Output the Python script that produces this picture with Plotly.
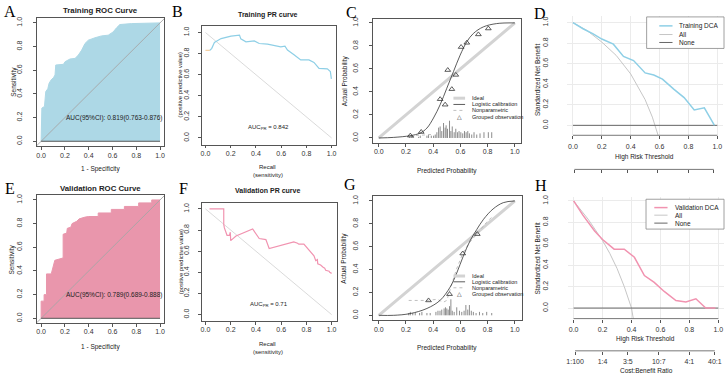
import plotly.graph_objects as go

W, H = 726, 375
FONT = "Liberation Sans, Arial, sans-serif"
SERIF = "Liberation Serif, Times New Roman, serif"
AX = "#555555"

TICKS = [0, 0.2, 0.4, 0.6, 0.8, 1.0]
TICK_TEXT = ["0.0", "0.2", "0.4", "0.6", "0.8", "1.0"]

# ---------------- A: Training ROC ----------------
roc_train_fpr = [0, 0.006, 0.028, 0.039, 0.056, 0.067, 0.084, 0.104, 0.117, 0.123, 0.188, 0.201,
                 0.243, 0.285, 0.313, 0.341, 0.369, 0.397, 0.452, 0.508, 0.564, 0.606, 0.634,
                 0.662, 0.76, 0.9, 1.0]
roc_train_tpr = [0, 0.28, 0.294, 0.42, 0.443, 0.49, 0.518, 0.538, 0.56, 0.644, 0.65, 0.672,
                 0.695, 0.70, 0.728, 0.77, 0.826, 0.854, 0.874, 0.89, 0.896, 0.924, 0.958,
                 0.986, 0.994, 1.0, 1.0]
auc_train_text = "AUC(95%CI): 0.819(0.763-0.876)"

# ---------------- E: Validation ROC ----------------
roc_valid_fpr = [0, 0, 0.025, 0.025, 0.045, 0.045, 0.085, 0.10, 0.115, 0.185, 0.185, 0.215, 0.22,
                 0.25, 0.26, 0.30, 0.32, 0.37, 0.40, 0.48, 0.48, 0.59, 0.59, 0.70, 0.70, 0.82,
                 0.82, 0.93, 0.93, 1.0]
roc_valid_tpr = [0, 0.145, 0.145, 0.20, 0.20, 0.375, 0.375, 0.43, 0.49, 0.51, 0.71, 0.72, 0.76,
                 0.77, 0.80, 0.82, 0.84, 0.855, 0.86, 0.86, 0.89, 0.89, 0.92, 0.92, 0.945, 0.945,
                 0.975, 0.975, 1.0, 1.0]
auc_valid_text = "AUC(95%CI): 0.789(0.689-0.888)"

# ---------------- B: Training PR ----------------
pr_train_start_recall = [0.0, 0.035]
pr_train_start_precision = [0.83, 0.83]
pr_train_recall = [0.035, 0.05, 0.071, 0.124, 0.203, 0.27, 0.28, 0.321, 0.387, 0.426, 0.492, 0.545,
                   0.597, 0.63, 0.65, 0.702, 0.755, 0.82, 0.86, 0.9, 0.966, 0.99, 0.998]
pr_train_precision = [0.83, 0.85, 0.906, 0.943, 0.966, 0.975, 0.94, 0.912, 0.92, 0.896, 0.89, 0.88,
                      0.865, 0.87, 0.834, 0.79, 0.74, 0.74, 0.717, 0.66, 0.655, 0.63, 0.56]
auc_pr_train = "AUC<sub>PR</sub> = 0.842"

# ---------------- F: Validation PR ----------------
pr_valid_recall = [0.032, 0.145, 0.145, 0.15, 0.171, 0.19, 0.197, 0.2, 0.242, 0.374, 0.426, 0.479,
                   0.505, 0.70, 0.73, 0.74, 0.78, 0.81, 0.834, 0.86, 0.874, 0.887, 0.89, 0.913,
                   0.93, 0.945, 0.953, 0.98, 0.985, 1.0]
pr_valid_precision = [1.0, 1.0, 0.853, 0.82, 0.75, 0.75, 0.78, 0.70, 0.744, 0.81, 0.72, 0.71,
                      0.625, 0.688, 0.675, 0.666, 0.666, 0.625, 0.587, 0.556, 0.51, 0.52, 0.48,
                      0.469, 0.45, 0.44, 0.42, 0.41, 0.40, 0.39]
auc_pr_valid = "AUC<sub>PR</sub> = 0.71"

# PR baseline and ideal diagonals
pr_base_x = [0, 1]
pr_base_y = [1, 0]
ideal_x = [0, 1]
ideal_y = [0, 1]

# ---------------- C: Training calibration ----------------
cal_train_logit_x = [0, 0.11, 0.232, 0.305, 0.354, 0.402, 0.451, 0.5, 0.549, 0.598, 0.647, 0.695,
                     0.768, 0.866, 1.0]
cal_train_logit_y = [0, 0.005, 0.02, 0.043, 0.086, 0.173, 0.289, 0.432, 0.577, 0.72, 0.836, 0.908,
                     0.965, 0.994, 1.0]
cal_train_np_x = [0.23, 0.26, 0.3, 0.33, 0.36, 0.4]
cal_train_np_y = [0.02, 0.02, 0.025, 0.025, 0.03, 0.03]
cal_train_obs_x = [0.232, 0.312, 0.451, 0.488, 0.507, 0.537, 0.566, 0.605, 0.647, 0.732, 0.805]
cal_train_obs_y = [0.02, 0.052, 0.337, 0.289, 0.59, 0.424, 0.548, 0.79, 0.827, 0.9, 0.951]
cal_train_spike_x = [0.227, 0.244, 0.256, 0.293, 0.305, 0.354, 0.366, 0.386, 0.403, 0.415, 0.427,
                     0.44, 0.451, 0.463, 0.476, 0.488, 0.495, 0.505, 0.52, 0.53, 0.54, 0.554,
                     0.566, 0.578, 0.59, 0.603, 0.617, 0.63, 0.642, 0.654, 0.666, 0.683, 0.7,
                     0.72, 0.744, 0.773, 0.805, 0.83]
cal_train_spike_h = [0.01, 0.02, 0.015, 0.01, 0.02, 0.02, 0.025, 0.02, 0.02, 0.03, 0.05,
                     0.09, 0.10, 0.06, 0.13, 0.09, 0.11, 0.08, 0.15, 0.06, 0.10, 0.05,
                     0.08, 0.05, 0.06, 0.05, 0.04, 0.06, 0.05, 0.06, 0.04, 0.03, 0.05,
                     0.03, 0.04, 0.05, 0.05, 0.05]

# ---------------- G: Validation calibration ----------------
cal_valid_logit_x = [0, 0.11, 0.23, 0.354, 0.45, 0.524, 0.573, 0.622, 0.67, 0.72, 0.77, 0.84, 0.915, 1.0]
cal_valid_logit_y = [0, 0.0, 0.015, 0.06, 0.13, 0.246, 0.37, 0.52, 0.65, 0.75, 0.84, 0.93, 0.985, 1.0]
cal_valid_np_x = [0.22, 0.35, 0.43, 0.475, 0.5, 0.535, 0.57, 0.62, 0.67, 0.72, 0.79, 0.84]
cal_valid_np_y = [0.13, 0.13, 0.14, 0.115, 0.13, 0.26, 0.40, 0.55, 0.64, 0.71, 0.81, 0.87]
cal_valid_obs_x = [0.366, 0.52, 0.617, 0.724]
cal_valid_obs_y = [0.13, 0.185, 0.54, 0.71]
cal_valid_spike_x = [0.22, 0.232, 0.25, 0.268, 0.3, 0.317, 0.354, 0.378, 0.42, 0.435, 0.45, 0.463,
                     0.48, 0.49, 0.5, 0.51, 0.52, 0.53, 0.54, 0.554, 0.573, 0.593, 0.61, 0.627,
                     0.64, 0.654, 0.666, 0.68, 0.695, 0.715, 0.74, 0.764, 0.793, 0.83]
cal_valid_spike_h = [0.02, 0.03, 0.02, 0.025, 0.02, 0.03, 0.02, 0.02, 0.03, 0.04, 0.04, 0.05,
                     0.06, 0.07, 0.06, 0.05, 0.08, 0.14, 0.04, 0.03, 0.07, 0.04, 0.03, 0.04,
                     0.09, 0.05, 0.09, 0.04, 0.03, 0.02, 0.03, 0.02, 0.03, 0.02]

# ---------------- D: Training DCA ----------------
dca_train_thr = [0, 0.07, 0.14, 0.2, 0.28, 0.35, 0.42, 0.5, 0.56, 0.62, 0.7, 0.77, 0.84, 0.91, 0.98]
dca_train_nb = [1.0, 0.94, 0.89, 0.84, 0.79, 0.67, 0.63, 0.51, 0.49, 0.45, 0.35, 0.27, 0.15, 0.17, 0.0]
dca_train_all_thr = [0, 0.1, 0.2, 0.3, 0.4, 0.45, 0.5, 0.55, 0.57, 0.595]
dca_train_all_nb = [1.0, 0.92, 0.81, 0.68, 0.50, 0.38, 0.25, 0.08, 0.0, -0.12]

# ---------------- H: Validation DCA ----------------
dca_valid_thr = [0, 0.064, 0.145, 0.2, 0.28, 0.35, 0.42, 0.489, 0.557, 0.626, 0.707, 0.776, 0.845, 0.913, 0.98]
dca_valid_nb = [1.0, 0.867, 0.72, 0.64, 0.55, 0.55, 0.474, 0.304, 0.24, 0.155, 0.07, 0.056, 0.087, 0.0, 0.0]
dca_valid_all_thr = [0, 0.1, 0.2, 0.25, 0.3, 0.35, 0.4, 0.415]
dca_valid_all_nb = [1.0, 0.83, 0.63, 0.51, 0.37, 0.2, 0.0, -0.12]

dca_none_thr = [0, 1]
dca_none_nb = [0, 0]

cb_tick_vals = [0.0099, 0.2, 0.375, 0.588, 0.8, 0.9756]
cb_tick_text = ["1:100", "1:4", "3:5", "10:7", "4:1", "40:1"]

# colours
BLUE_FILL = "#ADD8E6"
PINK_FILL = "#E996AC"
BLUE_LINE = "#8ECFE6"
PINK_LINE = "#F193B0"
GRAY_ALL = "#C6C6C6"
GRAY_NONE = "#666666"


# ---------------- helpers ----------------
def fx(X):
    return X / W


def fy(Y):
    return 1 - Y / H


def rng(lo_px, hi_px, p0, p1):
    return [(lo_px - p0) / (p1 - p0), (hi_px - p0) / (p1 - p0)]


def sfx(i):
    return "" if i == 1 else str(i)


def spikes(xs, hs):
    X, Y = [], []
    for x, h in zip(xs, hs):
        X += [x, x, None]
        Y += [0, h, None]
    return X, Y


tickfont = dict(size=7, color="#333333", family=FONT)

BOX = {
    1: dict(L=35, R=163, T=16, B=145, x0=39.3, x1=158.7, y0=140, y1=21, ys=8),
    2: dict(L=200.7, R=335.7, T=24, B=143.3, x0=204.3, x1=331, y0=136.7, y1=30.7, ys=6),
    3: dict(L=372.7, R=520.7, T=16.7, B=141.7, x0=378.3, x1=515, y0=136.7, y1=21, ys=8),
    5: dict(L=35, R=163, T=194.5, B=322.5, x0=39.3, x1=158.7, y0=318, y1=199, ys=8),
    6: dict(L=200.7, R=336, T=201.7, B=320.5, x0=204.3, x1=331, y0=314.3, y1=208, ys=6),
    7: dict(L=372.7, R=521.7, T=195, B=320, x0=378.3, x1=515, y0=315, y1=200, ys=8),
}

layout = dict(
    width=W, height=H, margin=dict(l=0, r=0, t=0, b=0),
    paper_bgcolor="white", plot_bgcolor="rgba(0,0,0,0)",
    showlegend=False, font=dict(family=FONT, size=7, color="#333333"),
)

for i, p in BOX.items():
    s = sfx(i)
    layout["xaxis" + s] = dict(
        domain=[fx(p["L"]), fx(p["R"])], range=rng(p["L"], p["R"], p["x0"], p["x1"]),
        anchor="y" + s, tickvals=TICKS, ticktext=TICK_TEXT, ticks="outside", ticklen=3,
        tickwidth=0.8, tickcolor=AX, showline=True, linecolor=AX, linewidth=0.8, mirror=True,
        showgrid=False, zeroline=False, tickfont=tickfont, ticklabelstandoff=-1, fixedrange=True)
    layout["yaxis" + s] = dict(
        domain=[fy(p["B"]), fy(p["T"])], range=rng(p["B"], p["T"], p["y0"], p["y1"]),
        anchor="x" + s, tickvals=TICKS, ticktext=TICK_TEXT, ticks="outside", ticklen=3,
        tickwidth=0.8, tickcolor=AX, showline=True, linecolor=AX, linewidth=0.8, mirror=True,
        showgrid=False, zeroline=False, tickfont=tickfont, tickangle=-90,
        ticklabelstandoff=p["ys"], fixedrange=True)

DCA = {
    4: dict(x0=573.3, x1=718.3, axisY=134, top=14.5, y0=124, y1=20.7, cb=9, cbY=168.3, cblab=False),
    8: dict(x0=574, x1=719.3, axisY=318.3, top=195.7, y0=307.7, y1=200, cb=10, cbY=350.7, cblab=True),
}
for i, p in DCA.items():
    s = str(i)
    L = p["x0"] - 0.04 * (p["x1"] - p["x0"])
    R = p["x1"] + 0.04 * (p["x1"] - p["x0"])
    layout["xaxis" + s] = dict(
        domain=[fx(L), fx(R)], range=[-0.04, 1.04], anchor="y" + s, tickvals=TICKS,
        ticktext=TICK_TEXT, ticks="outside", ticklen=3, tickwidth=0.8, tickcolor=AX,
        showline=False, showgrid=True, gridcolor="#EBEBEB", gridwidth=0.8, zeroline=False,
        tickfont=tickfont, ticklabelstandoff=1, fixedrange=True)
    layout["yaxis" + s] = dict(
        domain=[fy(p["axisY"]), fy(p["top"])], range=rng(p["axisY"], p["top"], p["y0"], p["y1"]),
        anchor="x" + s, tickvals=TICKS, ticktext=TICK_TEXT, ticks="", showline=False,
        showgrid=True, gridcolor="#EBEBEB", gridwidth=0.8, zeroline=False, tickfont=tickfont,
        tickangle=-90, ticklabelstandoff=17, fixedrange=True)
    layout["xaxis" + str(p["cb"])] = dict(
        overlaying="x" + s, anchor="free", position=fy(p["cbY"]), side="bottom",
        range=[-0.04, 1.04], tickvals=cb_tick_vals, ticktext=cb_tick_text, ticks="outside",
        ticklen=3, tickwidth=0.8, tickcolor=AX, showticklabels=p["cblab"], showline=False,
        showgrid=False, zeroline=False, tickfont=tickfont, ticklabelstandoff=1, fixedrange=True)

fig = go.Figure()


def add(x, y, i, **kw):
    s = sfx(i)
    kw.setdefault("hoverinfo", "skip")
    fig.add_trace(go.Scatter(x=x, y=y, xaxis="x" + s, yaxis="y" + s, **kw))


# ROC panels
for i, fpr, tpr, col in [(1, roc_train_fpr, roc_train_tpr, BLUE_FILL), (5, roc_valid_fpr, roc_valid_tpr, PINK_FILL)]:
    add(fpr, tpr, i, mode="lines", fill="tozeroy", fillcolor=col, line=dict(color=col, width=1))
    add([-1, 2], [-1, 2], i, mode="lines", line=dict(color="#A6A6A6", width=0.9))
    add([0, 1], [0, 0], i, mode="lines", line=dict(color="#555555", width=1))

# PR panels
add(pr_base_x, pr_base_y, 2, mode="lines", line=dict(color="#D0D0D0", width=0.8))
add(pr_train_start_recall, pr_train_start_precision, 2, mode="lines", line=dict(color="#F6CFA0", width=1.2))
add(pr_train_recall, pr_train_precision, 2, mode="lines", line=dict(color=BLUE_LINE, width=1.2))
add(pr_base_x, pr_base_y, 6, mode="lines", line=dict(color="#D0D0D0", width=0.8))
add(pr_valid_recall, pr_valid_precision, 6, mode="lines", line=dict(color=PINK_LINE, width=1.2))

# Calibration panels
for i, lx, ly, nx, ny, ox, oy, sx, sh in [
    (3, cal_train_logit_x, cal_train_logit_y, cal_train_np_x, cal_train_np_y, cal_train_obs_x,
     cal_train_obs_y, cal_train_spike_x, cal_train_spike_h),
    (7, cal_valid_logit_x, cal_valid_logit_y, cal_valid_np_x, cal_valid_np_y, cal_valid_obs_x,
     cal_valid_obs_y, cal_valid_spike_x, cal_valid_spike_h)]:
    add(ideal_x, ideal_y, i, mode="lines", line=dict(color="#D3D3D3", width=3))
    spx, spy = spikes(sx, sh)
    add(spx, spy, i, mode="lines", line=dict(color="#8C8C8C", width=1), connectgaps=False)
    add(nx, ny, i, mode="lines", line=dict(color="#B0B0B0", width=0.8, dash="dot"))
    add(lx, ly, i, mode="lines", line=dict(color="#333333", width=0.8, shape="spline"))
    add(ox, oy, i, mode="markers", marker=dict(symbol="triangle-up-open", size=5, color="#333333",
                                                line=dict(width=0.8, color="#333333")))

# DCA panels
for i, tx, ty, ax_, ay_, col in [(4, dca_train_thr, dca_train_nb, dca_train_all_thr, dca_train_all_nb, BLUE_LINE),
                                 (8, dca_valid_thr, dca_valid_nb, dca_valid_all_thr, dca_valid_all_nb, PINK_LINE)]:
    add(ax_, ay_, i, mode="lines", line=dict(color=GRAY_ALL, width=1))
    add(dca_none_thr, dca_none_nb, i, mode="lines", line=dict(color=GRAY_NONE, width=1))
    add(tx, ty, i, mode="lines", line=dict(color=col, width=1.5))

# invisible traces to create the cost:benefit overlay axes
fig.add_trace(go.Scatter(x=[0.5], y=[None], xaxis="x9", yaxis="y4", hoverinfo="skip"))
fig.add_trace(go.Scatter(x=[0.5], y=[None], xaxis="x10", yaxis="y8", hoverinfo="skip"))

shapes = []
annotations = []


def hline(X0, X1, Y, color, width, dash="solid"):
    shapes.append(dict(type="line", xref="paper", yref="paper", x0=fx(X0), x1=fx(X1),
                       y0=fy(Y), y1=fy(Y), line=dict(color=color, width=width, dash=dash)))


def ann(text, X, Y, size, angle=0, xanchor="center", family=FONT, color="#222222"):
    annotations.append(dict(text=text, x=fx(X), y=fy(Y), xref="paper", yref="paper", showarrow=False,
                            textangle=angle, xanchor=xanchor, yanchor="middle",
                            font=dict(size=size, family=family, color=color)))


# DCA axis lines (R style: from first to last tick)
for i, p in DCA.items():
    shapes.append(dict(type="line", xref="x" + str(i), yref="paper", x0=0, x1=1, y0=fy(p["axisY"]),
                       y1=fy(p["axisY"]), line=dict(color=AX, width=0.8)))
    shapes.append(dict(type="line", xref="x" + str(i), yref="paper", x0=cb_tick_vals[0],
                       x1=cb_tick_vals[-1], y0=fy(p["cbY"]), y1=fy(p["cbY"]),
                       line=dict(color=AX, width=0.8)))

# DCA legends
for (bx0, bx1, by0, by1, lx0, lx1, tx, ys, name, col) in [
    (647.3, 725, 15, 46.7, 660, 673.3, 678.3, [24, 32.7, 40.7], "Training DCA", BLUE_LINE),
    (646.7, 725, 198.3, 228.3, 655, 668.3, 673.3, [206.7, 214.3, 222.3], "Validation DCA", PINK_LINE)]:
    shapes.append(dict(type="rect", xref="paper", yref="paper", x0=fx(bx0), x1=fx(bx1), y0=fy(by1),
                       y1=fy(by0), line=dict(color="#888888", width=0.8), fillcolor="white"))
    hline(lx0, lx1, ys[0], col, 1.5)
    hline(lx0, lx1, ys[1], GRAY_ALL, 1)
    hline(lx0, lx1, ys[2], GRAY_NONE, 1)
    ann(name, tx, ys[0], 6.5, xanchor="left")
    ann("All", tx, ys[1], 6.5, xanchor="left")
    ann("None", tx, ys[2], 6.5, xanchor="left")

# calibration legends
for ys in [[96.7, 103, 109, 115.7], [275.5, 281.3, 287.3, 293.3]]:
    hline(453.3, 465, ys[0], "#D3D3D3", 3)
    hline(453.3, 465, ys[1], "#333333", 0.8)
    hline(453.3, 465, ys[2], "#B0B0B0", 0.8, "dot")
    ann("\u25B3", 459.5, ys[3], 6)
    ann("Ideal", 470, ys[0], 5.5, xanchor="left")
    ann("Logistic calibration", 470, ys[1], 5.5, xanchor="left")
    ann("Nonparametric", 470, ys[2], 5.5, xanchor="left")
    ann("Grouped observation", 470, ys[3], 5.5, xanchor="left")

# panel letters
for t, X, Y in [("A", 8.3, 9.5), ("B", 176, 10), ("C", 351, 11), ("D", 540, 12),
                ("E", 8, 187), ("F", 182, 187), ("G", 349, 183), ("H", 541, 184)]:
    ann(t, X, Y, 16, family=SERIF, color="black")

# titles
ann("<b>Training ROC Curve</b>", 98.8, 9, 7.8)
ann("<b>Validation ROC Curve</b>", 98.5, 188, 7.8)
ann("<b>Training PR curve</b>", 267, 12.7, 7)
ann("<b>Validation PR curve</b>", 267, 189.5, 7)

# axis titles
ann("1 - Specificity", 98.8, 168, 6.5)
ann("1 - Specificity", 98.8, 347.3, 6.5)
ann("Sensitivity", 11.7, 80.5, 6.5, angle=-90)
ann("Sensitivity", 10.5, 258.5, 6.5, angle=-90)
ann("Recall", 267, 166, 6)
ann("(sensitivity)", 267, 174, 6)
ann("Recall", 267, 344, 6)
ann("(sensitivity)", 267, 351.7, 6)
ann("(positive predictive value)", 179, 83.7, 5.8, angle=-90)
ann("(positive predictive value)", 179.5, 261, 5.8, angle=-90)
ann("Actual Probability", 344, 79.2, 6.5, angle=-90)
ann("Actual Probability", 344, 257.5, 6.5, angle=-90)
ann("Predicted Probability", 446.7, 170, 6.5)
ann("Predicted Probability", 447, 348.3, 6.5)
ann("Standardized Net Benefit", 537.7, 78, 6.5, angle=-90)
ann("Standardized Net Benefit", 537.7, 257.5, 6.5, angle=-90)
ann("High Risk Threshold", 645, 155.7, 6.5)
ann("High Risk Threshold", 645.8, 339, 6.5)
ann("Cost:Benefit Ratio", 647.5, 370, 6.5)

# in-plot texts (data coordinates)
for xr, yr, txt, X, Y, xa in [("x", "y", auc_train_text, 0.19, 0.2, "left"),
                              ("x5", "y5", auc_valid_text, 0.19, 0.2, "left"),
                              ("x2", "y2", auc_pr_train, 0.5, 0.1, "center"),
                              ("x6", "y6", auc_pr_valid, 0.5, 0.1, "center")]:
    annotations.append(dict(text=txt, x=X, y=Y, xref=xr, yref=yr, showarrow=False, xanchor=xa,
                            yanchor="middle", font=dict(size=6.5 if xa == "left" else 6,
                                                        family=FONT, color="#222222")))

layout["shapes"] = shapes
layout["annotations"] = annotations
fig.update_layout(**layout)
fig.write_html("out.html")
